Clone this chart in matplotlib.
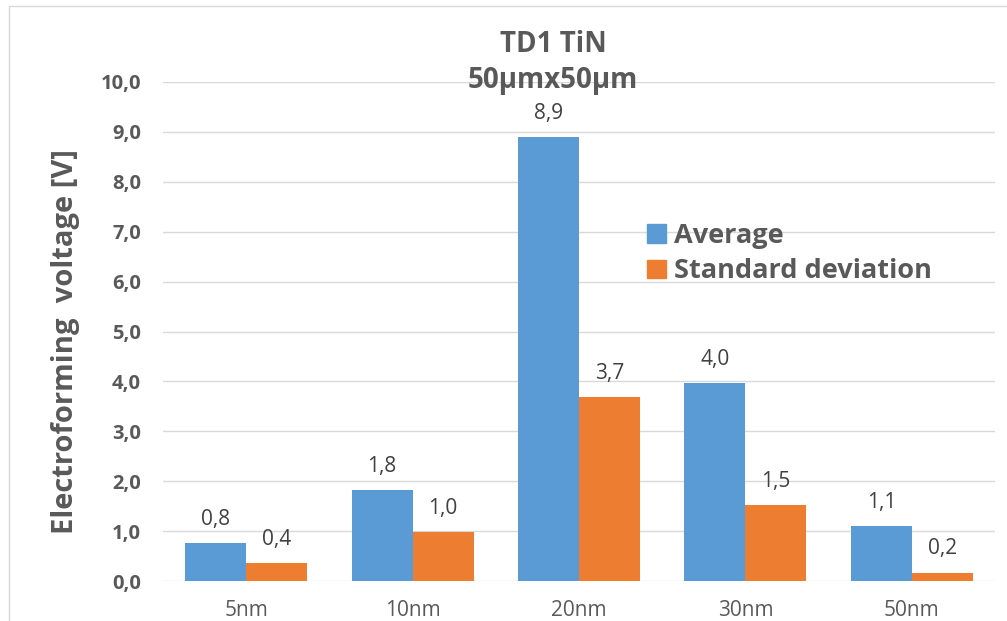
import matplotlib
matplotlib.use("Agg")
import matplotlib.pyplot as plt
from matplotlib.patches import Rectangle, Patch
import numpy as np

categories = ["5nm", "10nm", "20nm", "30nm", "50nm"]
average = [0.76, 1.82, 8.90, 3.96, 1.10]
std_dev = [0.36, 0.98, 3.69, 1.53, 0.17]
series_names = ["Average", "Standard deviation"]
y_ticks = [0, 1, 2, 3, 4, 5, 6, 7, 8, 9, 10]

BLUE = "#5b9bd5"
ORANGE = "#ed7d31"
GRAY = "#595959"
LABEL = "#404040"
GRID = "#d9d9d9"

W, H = 1007, 621
fig = plt.figure(figsize=(W / 100, H / 100), dpi=100)
ax = fig.add_axes([163 / W, 1 - 581 / H, (995 - 163) / W, (581 - 82) / H])

x = np.arange(len(categories))
bw = 0.366
b1 = ax.bar(x - bw / 2, average, bw, color=BLUE, zorder=3)
b2 = ax.bar(x + bw / 2, std_dev, bw, color=ORANGE, zorder=3)

def fmt(v):
    return f"{v:.1f}".replace(".", ",")

for bars, vals in ((b1, average), (b2, std_dev)):
    for rect, v in zip(bars, vals):
        ax.annotate(fmt(v), (rect.get_x() + rect.get_width() / 2, v),
                    xytext=(0, 13), textcoords="offset points",
                    ha="center", va="baseline", fontsize=15,
                    family="Open Sans", color=LABEL)

ax.set_xlim(-0.5, len(categories) - 0.5)
ax.set_ylim(0, 10)
ax.set_yticks(y_ticks)
ax.set_yticklabels([fmt(t) for t in y_ticks], fontsize=14.5, fontweight="bold",
                   family="Open Sans", color=GRAY)
ax.set_xticks(x)
ax.set_xticklabels(categories, fontsize=15, family="Open Sans", color=GRAY)
ax.tick_params(axis="both", length=0)
ax.tick_params(axis="x", pad=14)
ax.tick_params(axis="y", pad=16)
for s in ax.spines.values():
    s.set_visible(False)
ax.yaxis.grid(True, color=GRID, linewidth=1.0, zorder=0)
ax.set_axisbelow(True)

# title
fig.text(553 / W, 1 - 52 / H, "TD1 TiN", ha="center", va="baseline",
         fontsize=20, fontweight="bold", family="Open Sans", color=GRAY)
fig.text(553 / W, 1 - 88 / H, "50µmx50µm", ha="center", va="baseline",
         fontsize=20, fontweight="bold", family="Open Sans", color=GRAY)

# y label
fig.text(66 / W, 1 - 342 / H, "Electroforming  voltage [V]", rotation=90,
         ha="center", va="center", fontsize=21, fontweight="bold",
         family="Open Sans", color=GRAY)

# legend
handles = [Patch(color=BLUE), Patch(color=ORANGE)]
leg = fig.legend(handles, series_names, loc="upper left",
                 bbox_to_anchor=(647 / W, 1 - 223 / H), frameon=False,
                 prop={"family": "Open Sans", "weight": "bold", "size": 19.5},
                 handlelength=0.7, handleheight=0.7, handletextpad=0.3,
                 labelspacing=0.35, borderpad=0, borderaxespad=0)
for t in leg.get_texts():
    t.set_color(GRAY)

# outer border
fig.patches.append(Rectangle((9 / W, -0.1), 1.2, 1.1 - 6 / H,
                             transform=fig.transFigure, fill=False,
                             edgecolor=GRID, linewidth=1.0))

fig.savefig("out.png", dpi=100)
